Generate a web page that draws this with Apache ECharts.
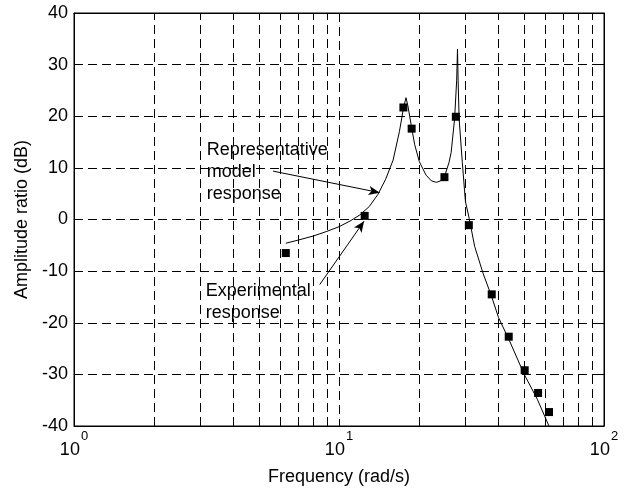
<!DOCTYPE html>
<html><head><meta charset="utf-8">
<script src="https://cdn.jsdelivr.net/npm/echarts@6/dist/echarts.min.js"></script>
<style>html,body{margin:0;padding:0;background:#fff}#c{width:626px;height:491px}</style>
</head><body><div id="c"></div>
<script>
// Model response (rad/s, dB)
const modelFreq = [6.3, 7, 8, 9, 10, 11, 12, 13, 14, 15, 16, 16.9, 17.5, 17.9, 18.2, 18.8, 19.3, 20.1, 21.3, 22.3, 23.3, 24.2, 25, 26, 26.5, 27.3, 27.8, 28.0, 28.15, 28.4, 29.2, 30, 31, 32.5, 35, 37.6, 40, 44, 50, 56, 62];
const modelDb   = [-4.6, -4.0, -3.2, -2.3, -1.4, -0.3, 0.9, 2.5, 4.8, 7.8, 11.5, 17.0, 21.5, 23.6, 22.0, 17.8, 14.5, 11.2, 8.6, 7.5, 7.2, 7.5, 8.3, 11.0, 13.0, 19.5, 27.0, 33.0, 27.0, 19.5, 11.0, 3.5, 0.2, -5.2, -10.5, -14.8, -19.0, -23.5, -30.0, -34.8, -40.0];
// Experimental response
const expFreq = [6.3, 12.5, 17.5, 18.8, 25.0, 27.6, 30.9, 37.7, 43.7, 50.2, 56.4, 62.0];
const expDb   = [-6.5, 0.7, 21.7, 17.6, 8.2, 19.9, -1.1, -14.5, -22.7, -29.2, -33.6, -37.3];
// Axes
const xMin = 1, xMax = 100;
const yMin = -40, yMax = 40, yStep = 10;
const xMinorGrid = [2, 3, 4, 5, 6, 7, 8, 9, 20, 30, 40, 50, 60, 70, 80, 90];
// Annotations (text and arrows, in data coordinates)
const modelNote = ['Representative', 'model', 'response'];
const modelNoteAt = [3.17, 15.6];
const modelArrow = [[5.64, 9.37], [14.24, 5.2]];
const expNote = ['Experimental', 'response'];
const expNoteAt = [3.14, -11.8];
const expArrow = [[8.46, -12.6], [12.43, -0.33]];

const FONT = "'Liberation Sans', Arial, Helvetica, sans-serif";
const dash = [9, 5];
const chart = echarts.init(document.getElementById('c'), null, {renderer: 'canvas'});

const option = {
  animation: false,
  backgroundColor: '#fff',
  textStyle: {fontFamily: FONT, color: '#000'},
  grid: {left: 74, right: 22, top: 13, bottom: 61, show: true, borderColor: '#000', borderWidth: 1, backgroundColor: 'transparent'},
  xAxis: [{
    type: 'log', logBase: 10, min: xMin, max: xMax,
    name: 'Frequency (rad/s)', nameLocation: 'middle', nameGap: 42,
    nameTextStyle: {fontSize: 18, color: '#000', fontFamily: FONT},
    axisLine: {show: true, onZero: false, lineStyle: {color: '#000', width: 1}},
    axisTick: {show: true, inside: true, length: 5, lineStyle: {color: '#000'}},
    splitLine: {show: true, lineStyle: {color: '#000', type: dash, width: 1}},
    axisLabel: {
      margin: 4, color: '#000',
      formatter: v => '{b|10}{s|' + Math.round(Math.log10(v)) + '}',
      rich: {
        b: {fontSize: 18, fontFamily: FONT, color: '#000', lineHeight: 40, verticalAlign: 'middle'},
        s: {fontSize: 13, fontFamily: FONT, color: '#000', lineHeight: 15, verticalAlign: 'top', padding: [0, 0, 0, 1]}
      }
    }
  }, {
    type: 'log', logBase: 10, min: xMin, max: xMax, position: 'top',
    axisLine: {show: true, onZero: false, lineStyle: {color: '#000'}},
    axisTick: {show: true, inside: true, length: 5, lineStyle: {color: '#000'}},
    axisLabel: {show: false}, splitLine: {show: false}
  }],
  yAxis: [{
    type: 'value', min: yMin, max: yMax, interval: yStep,
    name: 'Amplitude ratio (dB)', nameLocation: 'middle', nameGap: 40, nameRotate: 90,
    nameTextStyle: {fontSize: 18, color: '#000', fontFamily: FONT},
    axisLine: {show: true, onZero: false, lineStyle: {color: '#000'}},
    axisTick: {show: true, inside: true, length: 5, lineStyle: {color: '#000'}},
    splitLine: {show: true, lineStyle: {color: '#000', type: dash, width: 1}},
    axisLabel: {fontSize: 18, color: '#000', margin: 6, fontFamily: FONT}
  }, {
    type: 'value', min: yMin, max: yMax, interval: yStep, position: 'right',
    axisLine: {show: true, onZero: false, lineStyle: {color: '#000'}},
    axisTick: {show: true, inside: true, length: 5, lineStyle: {color: '#000'}},
    axisLabel: {show: false}, splitLine: {show: false}
  }],
  series: [{
    name: 'grid', type: 'line', data: [], silent: true,
    markLine: {
      silent: true, symbol: ['none', 'none'], label: {show: false}, animation: false,
      lineStyle: {color: '#000', type: dash, width: 1},
      data: xMinorGrid.map(v => ({xAxis: v}))
    }
  }, {
    name: 'Model', type: 'line', showSymbol: false, silent: true, z: 3,
    lineStyle: {color: '#000', width: 1},
    data: modelFreq.map((f, i) => [f, modelDb[i]])
  }, {
    name: 'Experimental', type: 'scatter', symbol: 'rect', symbolSize: 8, z: 4,
    itemStyle: {color: '#000', opacity: 1},
    data: expFreq.map((f, i) => [f, expDb[i]]),
    markLine: {
      silent: true, symbol: ['none', 'arrow'], symbolSize: [7, 11], label: {show: false},
      lineStyle: {color: '#000', type: 'solid', width: 1},
      data: [
        [{coord: modelArrow[0]}, {coord: modelArrow[1]}],
        [{coord: expArrow[0]}, {coord: expArrow[1]}]
      ]
    }
  }]
};
chart.setOption(option);

function note(lines, at) {
  const p = chart.convertToPixel({xAxisIndex: 0, yAxisIndex: 0}, at);
  return {
    type: 'text', x: p[0], y: p[1], z: 10,
    style: {text: lines.join('\n'), font: '18px ' + FONT, fill: '#000', lineHeight: 22, verticalAlign: 'top', align: 'left'}
  };
}
chart.setOption({graphic: [note(modelNote, modelNoteAt), note(expNote, expNoteAt)]});
</script>
</body></html>
